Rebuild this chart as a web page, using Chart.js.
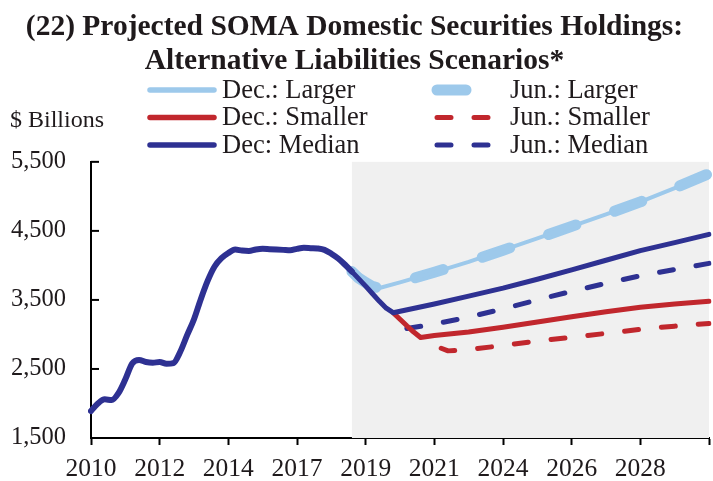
<!DOCTYPE html>
<html><head><meta charset="utf-8">
<script src="https://cdn.jsdelivr.net/npm/chart.js@4.4.1/dist/chart.umd.min.js"></script>
<style>html,body{margin:0;padding:0;background:#fff}#wrap{width:713px;height:481px;position:relative}</style>
</head><body><div id="wrap"><canvas id="c"></canvas></div>
<script>
// ---------- DATA ----------
const titleLines = ['(22) Projected SOMA Domestic Securities Holdings:', 'Alternative Liabilities Scenarios*'];
const unitLabel = '$ Billions';
const yearLabels = ['2010', '2012', '2014', '2017', '2019', '2021', '2024', '2026', '2028'];
const periodsPerLabel = 10;
const periodCount = 91;
const shadeStartPeriod = 38;
const yMin = 1500, yMax = 5500, yStep = 1000;

const historyValues = [1890, 2000, 2060, 2050, 2150, 2350, 2580, 2630, 2600, 2590,
  2600, 2575, 2585, 2750, 2990, 3220, 3515, 3780, 3985, 4105,
  4180, 4230, 4215, 4210, 4230, 4240, 4235, 4230, 4225, 4220,
  4240, 4255, 4250, 4245, 4225, 4170, 4100, 4010, 3910];

const decLargerPeriods = [38, 39, 40, 41, 42, 45, 50, 55, 60, 65, 70, 75, 80, 85, 90];
const decLargerValues  = [3910, 3815, 3750, 3695, 3672, 3755, 3900, 4052, 4220, 4390, 4565, 4740, 4920, 5120, 5330];
const junLargerPeriods = [38, 39, 40, 41, 42, 45, 50, 55, 60, 65, 70, 75, 80, 85, 90];
const junLargerValues  = [3910, 3815, 3750, 3695, 3672, 3755, 3900, 4052, 4220, 4390, 4565, 4740, 4920, 5120, 5330];
const decSmallerPeriods = [44, 45, 46, 47, 48, 50, 55, 60, 65, 70, 75, 80, 85, 90];
const decSmallerValues  = [3315, 3220, 3125, 3035, 2955, 2985, 3035, 3105, 3180, 3255, 3330, 3395, 3440, 3480];
const junSmallerPeriods = [51, 52, 55, 60, 65, 70, 75, 80, 85, 90];
const junSmallerValues  = [2800, 2762, 2780, 2840, 2905, 2960, 3015, 3075, 3120, 3160];
const decMedianPeriods = [38, 39, 40, 41, 42, 43, 44, 50, 55, 60, 65, 70, 75, 80, 85, 90];
const decMedianValues  = [3910, 3805, 3700, 3590, 3480, 3380, 3315, 3440, 3555, 3670, 3800, 3935, 4075, 4215, 4330, 4450];
const junMedianPeriods = [46, 50, 55, 60, 65, 70, 75, 80, 85, 90];
const junMedianValues  = [3085, 3150, 3252, 3370, 3500, 3625, 3740, 3850, 3940, 4030];

// ---------- BUILD ----------
const categories = Array.from({length: periodCount}, (_, i) =>
  i % periodsPerLabel === 0 ? (yearLabels[i / periodsPerLabel] ?? '') : '');

function toSeries(periods, values) {
  const arr = new Array(periodCount).fill(null);
  periods.forEach((p, k) => { arr[p] = values[k]; });
  return arr;
}

const LIGHT = '#9DC9EB', RED = '#C1272D', NAVY = '#2E3192';
const FONT = "'Liberation Serif', 'Times New Roman', serif";
const TEXT = '#1f1a1c';

const datasets = [
  {label: 'Dec.: Larger', data: toSeries(decLargerPeriods, decLargerValues), borderColor: LIGHT, borderWidth: 4, order: 5, inLegend: true},
  {label: 'Jun.: Larger', data: toSeries(junLargerPeriods, junLargerValues), borderColor: LIGHT, borderWidth: 11, borderDash: [29, 41], order: 6, inLegend: true},
  {label: 'Dec.: Smaller', data: toSeries(decSmallerPeriods, decSmallerValues), borderColor: RED, borderWidth: 5, order: 2, inLegend: true},
  {label: 'Jun.: Smaller', data: toSeries(junSmallerPeriods, junSmallerValues), borderColor: RED, borderWidth: 5, borderDash: [14, 23], order: 4, inLegend: true},
  {label: 'Dec: Median', data: toSeries(decMedianPeriods, decMedianValues), borderColor: NAVY, borderWidth: 5, order: 1, inLegend: true},
  {label: 'Jun.: Median', data: toSeries(junMedianPeriods, junMedianValues), borderColor: NAVY, borderWidth: 5, borderDash: [14, 23], order: 3, inLegend: true},
  {label: 'History', data: historyValues.slice(), borderColor: NAVY, borderWidth: 6, order: 0, inLegend: false, cubicInterpolationMode: 'monotone'}
].map(d => Object.assign({
  pointRadius: 0, pointHoverRadius: 0, spanGaps: true, tension: 0, fill: false,
  borderCapStyle: 'round', borderJoinStyle: 'round'
}, d));

const decorPlugin = {
  id: 'decor',
  beforeDatasetsDraw(chart) {
    const {ctx, chartArea: a, scales: {x}} = chart;
    const x0 = x.getPixelForValue(shadeStartPeriod);
    ctx.save();
    ctx.fillStyle = '#F0F0F0';
    ctx.fillRect(x0, a.top, a.right - x0, a.bottom - a.top);
    ctx.restore();
  },
  afterDraw(chart) {
    const {ctx, chartArea: a, scales: {y}} = chart;
    ctx.save();
    // inward y ticks
    ctx.strokeStyle = '#000'; ctx.lineWidth = 2;
    y.ticks.forEach(t => {
      const py = y.getPixelForValue(t.value);
      ctx.beginPath(); ctx.moveTo(a.left, py); ctx.lineTo(a.left + 8, py); ctx.stroke();
    });
    // unit label
    ctx.fillStyle = TEXT; ctx.font = '24px ' + FONT; ctx.textBaseline = 'middle'; ctx.textAlign = 'left';
    ctx.fillText(unitLabel, 10, 121);
    // legend
    const items = chart.data.datasets.filter(d => d.inLegend);
    items.forEach((ds, i) => {
      const col = i % 2, row = Math.floor(i / 2);
      const yy = 90 + row * 27.5;
      const x0 = col ? 437 : 150, x1 = col ? 500 : 214;
      ctx.strokeStyle = ds.borderColor;
      ctx.lineWidth = ds.borderDash ? ds.borderWidth : 5.5;
      ctx.setLineDash(ds.borderDash || []);
      ctx.lineCap = 'round';
      ctx.beginPath(); ctx.moveTo(x0, yy); ctx.lineTo(x1, yy); ctx.stroke();
      ctx.setLineDash([]);
      ctx.fillStyle = TEXT; ctx.font = '26.5px ' + FONT;
      ctx.fillText(ds.label, col ? 510 : 222, yy + 1);
    });
    ctx.restore();
  }
};

new Chart(document.getElementById('c'), {
  type: 'line',
  data: {labels: categories, datasets},
  options: {
    responsive: true, maintainAspectRatio: false, animation: false, devicePixelRatio: 1,
    layout: {padding: {left: 0, right: 4, top: 0, bottom: 0}},
    plugins: {
      legend: {display: false},
      tooltip: {enabled: false},
      title: {
        display: true, text: titleLines, color: TEXT,
        font: {family: FONT, size: 29.5, weight: 'bold', lineHeight: 1.15},
        padding: {top: 10, bottom: 84}
      }
    },
    scales: {
      x: {
        type: 'category',
        offset: false,
        border: {display: true, color: '#000', width: 2},
        grid: {
          drawOnChartArea: false, drawTicks: true, tickLength: 7, tickWidth: 2,
          tickColor: c => (c.index % periodsPerLabel === 0 ? '#000' : 'rgba(0,0,0,0)')
        },
        ticks: {autoSkip: false, maxRotation: 0, minRotation: 0, color: TEXT, padding: 9,
          font: {family: FONT, size: 25.5}},
        afterFit: s => { s.height = 43; s.paddingRight = 0; }
      },
      y: {
        min: yMin, max: yMax,
        border: {display: true, color: '#000', width: 2},
        grid: {drawOnChartArea: false, drawTicks: false},
        ticks: {stepSize: yStep, color: TEXT, padding: 25, font: {family: FONT, size: 24.5},
          callback: v => Number(v).toLocaleString('en-US')},
        afterFit: s => { s.width = 91; }
      }
    }
  },
  plugins: [decorPlugin]
});
</script></body></html>
